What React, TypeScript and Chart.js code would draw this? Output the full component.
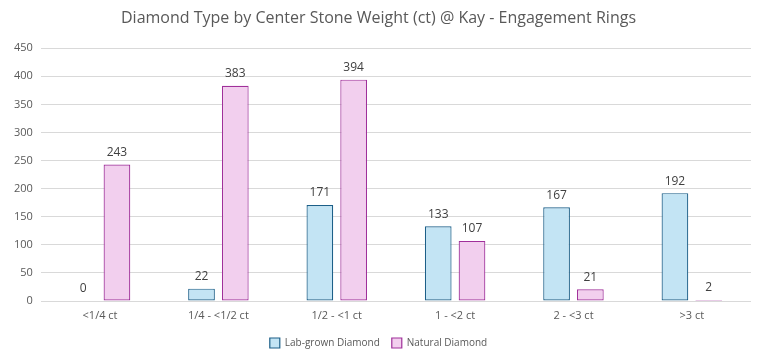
import React, { useEffect, useRef } from "react";
import { Chart, registerables } from "chart.js";

Chart.register(...registerables);

const categories = ["<1/4 ct", "1/4 - <1/2 ct", "1/2 - <1 ct", "1 - <2 ct", "2 - <3 ct", ">3 ct"];
const labGrown = [0, 22, 171, 133, 167, 192];
const natural = [243, 383, 394, 107, 21, 2];
const seriesNames = ["Lab-grown Diamond", "Natural Diamond"];
const titleText = "Diamond Type by Center Stone Weight (ct) @ Kay - Engagement Rings";

const FONT = "'Open Sans', 'Liberation Sans', sans-serif";

const valueLabels = {
  id: "valueLabels",
  afterDatasetsDraw(chart: any) {
    const ctx = chart.ctx;
    ctx.save();
    ctx.fillStyle = "#404040";
    ctx.font = `12px ${FONT}`;
    ctx.textAlign = "center";
    ctx.textBaseline = "bottom";
    chart.data.datasets.forEach((ds: any, di: number) => {
      const meta = chart.getDatasetMeta(di);
      meta.data.forEach((bar: any, i: number) => {
        ctx.fillText(String(ds.data[i]), bar.x, bar.y - 6);
      });
    });
    ctx.restore();
  },
};

export default function App() {
  const ref = useRef<HTMLCanvasElement>(null);
  useEffect(() => {
    document.body.style.margin = "0";
    const chart = new Chart(ref.current!, {
      type: "bar",
      data: {
        labels: categories,
        datasets: [
          {
            label: seriesNames[0],
            data: labGrown,
            backgroundColor: "#c3e4f4",
            borderColor: "#1c5f88",
            borderWidth: 1.2,
            borderSkipped: false,
            categoryPercentage: 0.571,
            barPercentage: 0.79,
          },
          {
            label: seriesNames[1],
            data: natural,
            backgroundColor: "#f2cfee",
            borderColor: "#a0309a",
            borderWidth: 1.2,
            borderSkipped: false,
            categoryPercentage: 0.571,
            barPercentage: 0.79,
          },
        ],
      },
      options: {
        animation: false,
        responsive: false,
        maintainAspectRatio: false,
        layout: { padding: { left: 6, right: 14, top: 6, bottom: 3 } },
        plugins: {
          title: {
            display: true,
            text: titleText,
            color: "#595959",
            font: { family: FONT, size: 16, weight: "normal" },
            padding: { top: 3, bottom: 20 },
          },
          legend: {
            position: "bottom",
            labels: {
              color: "#595959",
              font: { family: FONT, size: 10 },
              boxWidth: 10,
              boxHeight: 10,
              padding: 12,
            },
          },
          tooltip: { enabled: false },
        },
        scales: {
          x: {
            grid: { display: false, drawTicks: false, tickLength: 0 },
            border: { display: false },
            ticks: { color: "#595959", font: { family: FONT, size: 11 }, padding: 8 },
            afterFit: (scale: any) => {
              scale.height = 25;
            },
          },
          y: {
            min: 0,
            max: 450,
            ticks: { stepSize: 50, color: "#595959", font: { family: FONT, size: 11 }, padding: 8 },
            grid: { color: "#d9d9d9", drawTicks: false },
            border: { display: false },
          },
        },
      },
      plugins: [valueLabels],
    });
    return () => chart.destroy();
  }, []);
  return (
    <div style={{ width: 765, height: 361 }}>
      <canvas ref={ref} width={765} height={361} />
    </div>
  );
}
